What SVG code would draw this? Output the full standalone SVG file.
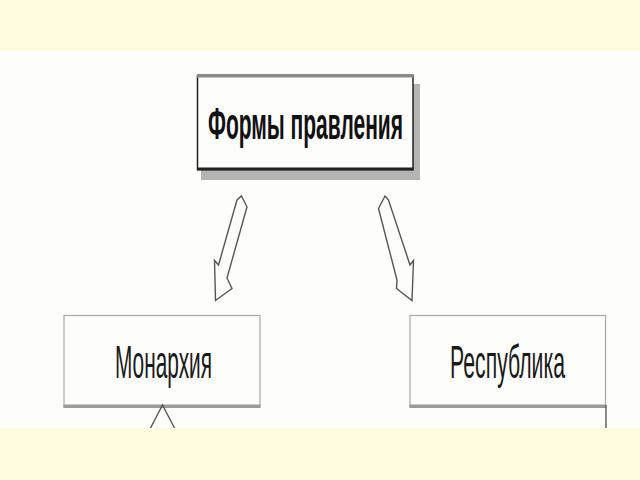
<svg xmlns="http://www.w3.org/2000/svg" width="640" height="480" viewBox="0 0 640 480">
<style>
.lbl{font-family:"Liberation Sans",Arial,sans-serif;fill:#1a1a1a;text-anchor:start}
.b{font-weight:bold;fill:#111}
.box{fill:#fdfefb;stroke:#a8a8a8;stroke-width:1.2}
.conn{fill:none;stroke:#555;stroke-width:1.4;stroke-linejoin:miter}
</style>
<rect x="0" y="0" width="640" height="480" fill="#fdfefb"/>
<rect x="0" y="0" width="640" height="51" fill="#fffcdf"/>
<g id="node-formy">
<rect x="201" y="84" width="219" height="96" fill="#b4b4b4"/>
<rect x="197.5" y="75.5" width="215.5" height="94" fill="#fdfefb" stroke="#222" stroke-width="1.5"/>
<rect x="197" y="74" width="216.5" height="3.5" fill="#8a8a8a"/>
<rect x="197" y="167.5" width="216.5" height="3" fill="#222"/>
<text class="lbl b" x="208" y="139" font-size="44" textLength="195" lengthAdjust="spacingAndGlyphs">Формы правления</text>
</g>
<g id="node-monarkhiya">
<rect class="box" x="64" y="315.5" width="196" height="91"/>
<rect x="63.5" y="404.5" width="197" height="3.5" fill="#9a9a9a"/>
<text class="lbl" x="115" y="378" font-size="47" textLength="97" lengthAdjust="spacingAndGlyphs">Монархия</text>
</g>
<g id="node-respublika">
<rect class="box" x="410" y="315.5" width="195.5" height="91"/>
<rect x="409.5" y="404.5" width="196.5" height="3.5" fill="#9a9a9a"/>
<text class="lbl" x="450" y="378" font-size="47" textLength="115" lengthAdjust="spacingAndGlyphs">Республика</text>
</g>
<g id="connectors">
<polygon class="conn" points="241.5,196 247,207 227,278 232,288.5 215.5,300.5 214.5,260.5 218.5,265 237,200"/>
<polygon class="conn" points="385,196 378.5,208.5 397,280 396.5,288.5 412,300.5 413.5,260.5 410,265 388.5,200"/>
<polyline class="conn" points="150,429 162.5,405 175,429"/>
<line class="conn" x1="606" y1="405" x2="606" y2="429" stroke="#333"/>
</g>
<rect x="0" y="428" width="640" height="52" fill="#fffcdf"/>
</svg>
